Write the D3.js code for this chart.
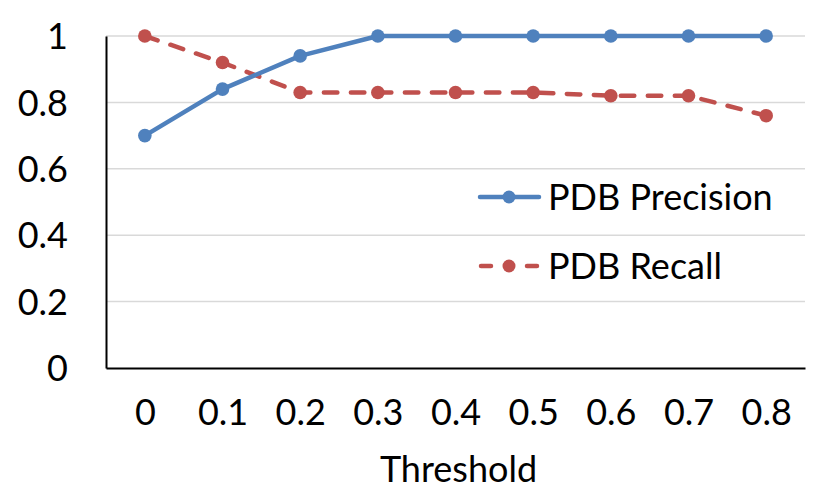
<!DOCTYPE html>
<html><head><meta charset="utf-8">
<script src="https://cdn.jsdelivr.net/npm/d3@7"></script>
<style>body{margin:0;background:#fff}svg{display:block}text{font-family:Lato,"Open Sans",sans-serif;fill:#000}</style>
</head><body><svg id="c" width="830" height="498"></svg>
<script>
const categories = ["0","0.1","0.2","0.3","0.4","0.5","0.6","0.7","0.8"];
const precision = [0.70,0.84,0.94,1,1,1,1,1,1];
const recall = [1,0.92,0.83,0.83,0.83,0.83,0.82,0.82,0.76];
const yTicks = [0,0.2,0.4,0.6,0.8,1];
const yTickLabels = ["0","0.2","0.4","0.6","0.8","1"];
const seriesNames = ["PDB Precision","PDB Recall"];

const svg = d3.select("#c");
const L=106,R=805,T=36,B=368;
const x = d3.scalePoint().domain(categories).range([L,R]).padding(0.5);
const y = d3.scaleLinear().domain([0,1]).range([B,T]);
const FS = 36;

// gridlines
svg.append("g").selectAll("line").data(yTicks.filter(d=>d>0)).join("line")
  .attr("x1",L).attr("x2",R).attr("y1",d=>y(d)).attr("y2",d=>y(d))
  .attr("stroke","#d9d9d9").attr("stroke-width",1.5);

// y axis
const ya = svg.append("g").attr("transform",`translate(${L},0)`)
  .call(d3.axisLeft(y).tickValues(yTicks).tickFormat((d,i)=>yTickLabels[i]).tickSize(0).tickPadding(38));
ya.select(".domain").attr("stroke","#000").attr("stroke-width",2);
ya.selectAll("text").style("font-size",FS+"px").style("font-family","Lato").attr("dy","0.35em");

// x axis
const xa = svg.append("g").attr("transform",`translate(0,${B})`)
  .call(d3.axisBottom(x).tickSize(0).tickPadding(31));
xa.select(".domain").attr("stroke","#000").attr("stroke-width",2);
xa.selectAll("text").style("font-size",FS+"px").style("font-family","Lato").attr("dy","0.71em");

svg.append("text").attr("x",(L+R)/2+3).attr("y",482).attr("text-anchor","middle")
  .style("font-size",FS+"px").text("Threshold");

const blue="#4f81bd", red="#c0504d";
const line = d3.line().x((d,i)=>x(categories[i])).y(d=>y(d));

svg.append("path").datum(recall).attr("d",line).attr("fill","none")
  .attr("stroke",red).attr("stroke-width",4.5).attr("stroke-dasharray","13.5 13.5").attr("stroke-linecap","round");
svg.append("g").selectAll("circle").data(recall).join("circle")
  .attr("cx",(d,i)=>x(categories[i])).attr("cy",d=>y(d)).attr("r",6.8).attr("fill",red);

svg.append("path").datum(precision).attr("d",line).attr("fill","none")
  .attr("stroke",blue).attr("stroke-width",4.5).attr("stroke-linejoin","round");
svg.append("g").selectAll("circle").data(precision).join("circle")
  .attr("cx",(d,i)=>x(categories[i])).attr("cy",d=>y(d)).attr("r",6.8).attr("fill",blue);

// legend
const lg = svg.append("g");
const ly=[197,266];
lg.append("line").attr("x1",480).attr("x2",539).attr("y1",ly[0]).attr("y2",ly[0])
  .attr("stroke",blue).attr("stroke-width",4.5).attr("stroke-linecap","round");
lg.append("circle").attr("cx",509).attr("cy",ly[0]).attr("r",6.5).attr("fill",blue);
lg.append("line").attr("x1",481).attr("x2",537).attr("y1",ly[1]).attr("y2",ly[1])
  .attr("stroke",red).attr("stroke-width",4.5).attr("stroke-linecap","round").attr("stroke-dasharray","10 36");
lg.append("circle").attr("cx",509).attr("cy",ly[1]).attr("r",6.5).attr("fill",red);
lg.selectAll("text").data(seriesNames).join("text")
  .attr("x",548).attr("y",(d,i)=>ly[i]).attr("dy","0.36em").style("font-size",FS+"px").text(d=>d);
</script></body></html>
